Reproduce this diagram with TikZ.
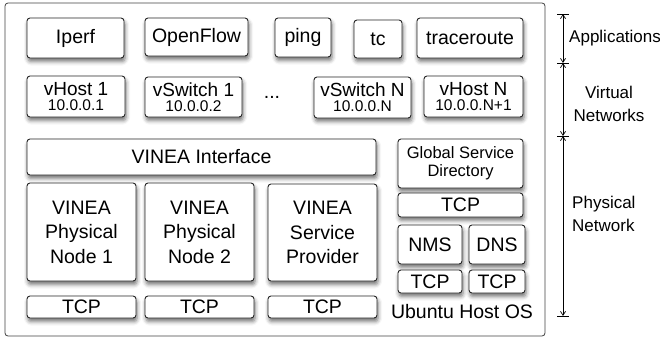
\documentclass[tikz,border=0pt]{standalone}
\usepackage{fontspec}
\setmainfont{Liberation Sans}
\usetikzlibrary{shadows.blur,arrows.meta}
\tikzset{
  box/.style={draw=black!85, line width=0.9pt, fill=white, rounded corners=3pt,
    inner sep=0pt, align=center,
    blur shadow={shadow xshift=1pt, shadow yshift=-3.5pt, shadow blur radius=4pt, shadow opacity=55}},
  big/.style={font=\fontsize{19.5}{24.5}\selectfont},
  mid/.style={font=\fontsize{16.5}{18}\selectfont},
  two/.style={font=\fontsize{19}{15}\selectfont},
  lbl/.style={font=\fontsize{17}{23}\selectfont, align=left, inner sep=0pt},
  dim/.style={line width=0.7pt, {Straight Barb[length=4pt,width=5pt]}-{Straight Barb[length=4pt,width=5pt]}},
  tick/.style={line width=0.7pt}
}
\newcommand{\twol}[2]{#1\\{\fontsize{15.5}{15}\selectfont #2}}
\begin{document}
\begin{tikzpicture}[x=1pt,y=-1pt]
\useasboundingbox (0,0) rectangle (660,341);
% outer frame
\draw[draw=black!75, line width=0.8pt, rounded corners=3pt] (5,3) rectangle (545,336);
% applications
\node[box,big,minimum width=97pt,minimum height=40pt] (iperf) at (75.5,38) {Iperf};
\node[box,big,minimum width=103pt,minimum height=38pt] (openflow) at (196.5,37) {OpenFlow};
\node[box,big,minimum width=56pt,minimum height=39pt] (ping) at (303,37.5) {ping};
\node[box,big,minimum width=48pt,minimum height=38pt] (tc) at (378,39) {tc};
\node[box,big,minimum width=106pt,minimum height=40pt] (traceroute) at (470,38) {traceroute};
% virtual
\node[box,two,minimum width=98pt,minimum height=41pt] (vh1) at (76,96.5) {\twol{vHost 1}{10.0.0.1}};
\node[box,two,minimum width=97pt,minimum height=40pt] (vs1) at (193.5,97) {\twol{vSwitch 1}{10.0.0.2}};
\node[big,inner sep=0pt] (dots) at (272,97) {...};
\node[box,two,minimum width=97pt,minimum height=41pt] (vsN) at (362.5,97.5) {\twol{vSwitch N}{10.0.0.N}};
\node[box,two,minimum width=99pt,minimum height=41pt] (vhN) at (473.5,96.5) {\twol{vHost N}{10.0.0.N+1}};
% physical
\node[box,big,minimum width=349pt,minimum height=36pt] (iface) at (201.5,157) {VINEA Interface};
\node[box,big,minimum width=109pt,minimum height=98pt] (pn1) at (81.5,232) {VINEA\\Physical\\Node 1};
\node[box,big,minimum width=109pt,minimum height=98pt] (pn2) at (199.5,232) {VINEA\\Physical\\Node 2};
\node[box,big,minimum width=109pt,minimum height=97pt] (sp) at (322.5,232.5) {VINEA\\Service\\Provider};
\node[box,big,minimum width=109pt,minimum height=22pt] (tcp1) at (81.5,307) {TCP};
\node[box,big,minimum width=109pt,minimum height=22pt] (tcp2) at (199.5,307) {TCP};
\node[box,big,minimum width=109pt,minimum height=22pt] (tcp3) at (322.5,307) {TCP};
\node[box,mid,minimum width=125pt,minimum height=49pt] (gsd) at (460.5,163.5) {Global Service\\Directory};
\node[box,big,minimum width=125pt,minimum height=24pt] (tcpg) at (460.5,205) {TCP};
\node[box,big,minimum width=64pt,minimum height=39pt] (nms) at (430,244.5) {NMS};
\node[box,big,minimum width=56pt,minimum height=39pt] (dns) at (497,244.5) {DNS};
\node[box,big,minimum width=64pt,minimum height=23pt] (tcpn) at (430,281.5) {TCP};
\node[box,big,minimum width=56pt,minimum height=23pt] (tcpd) at (497,281.5) {TCP};
\node[big,inner sep=0pt] (ubuntu) at (462,312) {Ubuntu Host OS};
% dimension lines
\coordinate (d0) at (563,14);
\coordinate (d1) at (563,63);
\coordinate (d2) at (563,136);
\coordinate (d3) at (563,316);
\foreach \c in {d0,d1,d2,d3}{\draw[tick] ([xshift=-6pt]\c) -- ([xshift=6pt]\c);}
\draw[dim] (d0) -- (d1);
\draw[dim] (d1) -- (d2);
\draw[dim] (d2) -- (d3);
\node[lbl, anchor=west] (lapp) at (569,38) {Applications};
\node[lbl, align=center] (lvirt) at (609,104) {Virtual\\Networks};
\node[lbl, anchor=north west] (lphys) at (572,196) {Physical\\Network};
\end{tikzpicture}
\end{document}
